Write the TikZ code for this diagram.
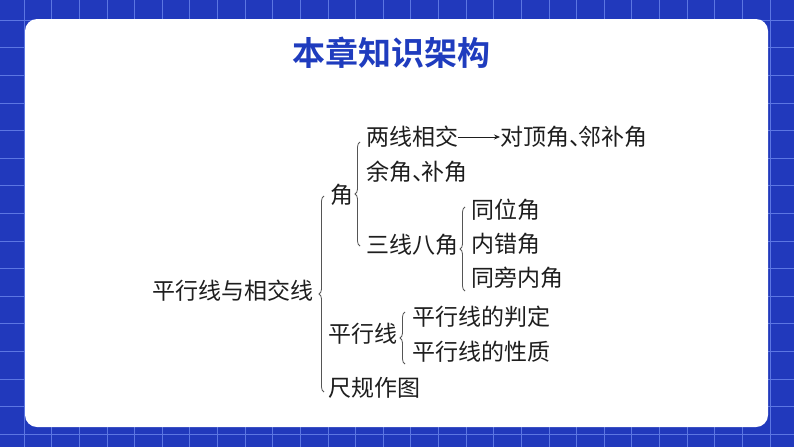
\documentclass[tikz,border=0pt]{standalone}
\usepackage{fontspec}
\usepackage{tikz}
\usetikzlibrary{arrows.meta}
\usetikzlibrary{decorations.pathreplacing}
\newfontfamily\cjk{Noto Sans CJK SC}[BoldFont={Noto Sans CJK SC Bold}]
\definecolor{bgblue}{HTML}{2139BC}
\definecolor{gridblue}{HTML}{5C76E2}
\definecolor{titleblue}{HTML}{1F3CBE}
\definecolor{textgray}{HTML}{1E1E1E}
\definecolor{bracegray}{HTML}{555555}
\newcommand{\dun}{、\hspace{-0.58em}}
\begin{document}
\begin{tikzpicture}[x=1pt, y=-1pt,
        item_style/.style={anchor=west, inner sep=0pt, text=textgray, font=\cjk\fontsize{23}{26}\selectfont},
        title_style/.style={inner sep=0pt, text=titleblue, font=\cjk\bfseries\fontsize{33}{36}\selectfont},
        brace_style/.style={draw=bracegray, line width=0.8pt, decorate, decoration={brace, amplitude=5pt}},
        arrow_style/.style={draw=textgray, line width=0.8pt, -{Stealth[length=6pt, width=5pt]}}]
        \useasboundingbox (0,0) rectangle (794,447);
        \fill [bgblue] (0,0) rectangle (794,447);
        % grid
        \foreach \k in {0,...,28} {
            \draw [gridblue, line width=0.7pt] ({24.1+27.62*\k},0) -- ({24.1+27.62*\k},447);
        }
        \foreach \k in {0,...,16} {
            \draw [gridblue, line width=0.7pt] (0,{20+27.62*\k}) -- (794,{20+27.62*\k});
        }
        \fill [white, rounded corners=12pt] (25,19) rectangle (768,427);
        
        \node [title_style](title) at (391,53) {本章知识架构};
        
        \node [item_style](root) at (152,291) {平行线与相交线};
        \node [item_style](jiao) at (330,195) {角};
        \node [item_style](lx) at (366,137) {两线相交};
        \node [item_style](dd) at (500,137) {对顶角\dun 邻补角};
        \node [item_style](yj) at (366,172) {余角\dun 补角};
        \node [item_style](sx) at (366,245) {三线八角};
        \node [item_style](tw) at (471,210) {同位角};
        \node [item_style](nc) at (471,244) {内错角};
        \node [item_style](tp) at (471,278) {同旁内角};
        \node [item_style](pxx) at (328,334) {平行线};
        \node [item_style](pd) at (412,317) {平行线的判定};
        \node [item_style](xz) at (412,352) {平行线的性质};
        \node [item_style](cg) at (328,388) {尺规作图};
        
        % braces
        \coordinate (b1s) at (324,392);
        \coordinate (b1e) at (324,196);
        \coordinate (b2s) at (360,246);
        \coordinate (b2e) at (360,142);
        \coordinate (b3s) at (465,291);
        \coordinate (b3e) at (465,207);
        \coordinate (b4s) at (405,364);
        \coordinate (b4e) at (405,312);
        \draw [brace_style] (b1s) -- (b1e);
        \draw [brace_style] (b2s) -- (b2e);
        \draw [brace_style] (b3s) -- (b3e);
        \draw [brace_style] (b4s) -- (b4e);
        
        \draw [arrow_style] (lx.east) -- (dd.west);
        \end{tikzpicture}
\end{document}
